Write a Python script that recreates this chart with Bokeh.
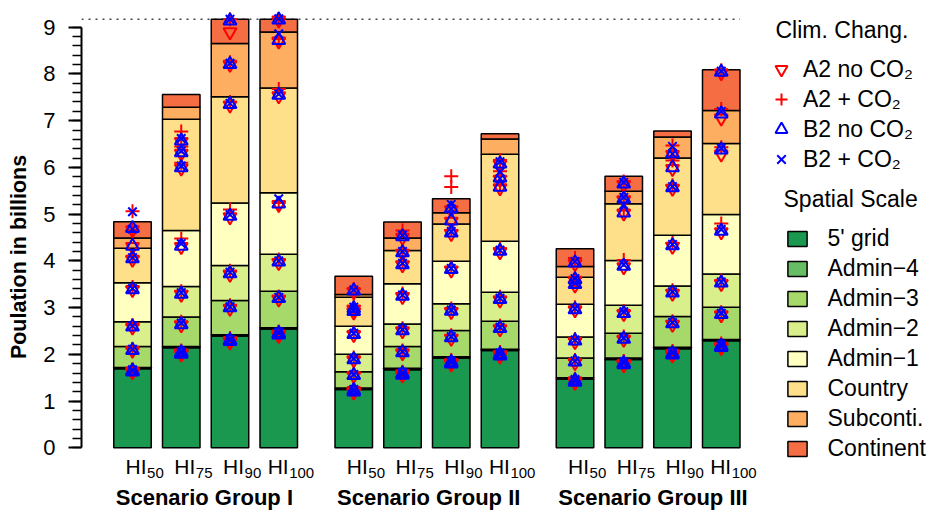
from bokeh.plotting import figure
from bokeh.models import (Range1d, ColumnDataSource, Legend, LegendItem, Label,
                          LabelSet, SingleIntervalTicker, FixedTicker, LinearAxis)
from bokeh.core.properties import value
from bokeh.embed import file_html
from bokeh.resources import INLINE

FONT = "Liberation Sans"

# ---------------- data ----------------
group_names = ["Scenario Group I", "Scenario Group II", "Scenario Group III"]
hi_levels = ["50", "75", "90", "100"]
scale_names = ["5' grid", "Admin\u22124", "Admin\u22123", "Admin\u22122", "Admin\u22121",
               "Country", "Subconti.", "Continent"]
scale_colors = ["#1a9850", "#66bd63", "#a6d96a", "#d9ef8b", "#ffffbf",
                "#fee08b", "#fdae61", "#f46d43"]
scenario_names = ["A2 no CO\u2082", "A2 + CO\u2082", "B2 no CO\u2082", "B2 + CO\u2082"]

# cumulative population (billions) up to each spatial scale, one row per bar
base_pop = [
    [1.69, 1.72, 2.17, 2.70, 3.53, 4.27, 4.49, 4.84],
    [2.14, 2.17, 2.80, 3.45, 4.65, 7.03, 7.29, 7.56],
    [2.39, 2.42, 3.15, 3.90, 5.24, 7.51, 8.65, 9.17],
    [2.54, 2.57, 3.35, 4.14, 5.46, 7.70, 8.90, 9.17],
    [1.25, 1.28, 1.63, 2.00, 2.60, 3.22, 3.28, 3.67],
    [1.67, 1.70, 2.17, 2.65, 3.51, 4.22, 4.49, 4.83],
    [1.92, 1.95, 2.51, 3.08, 3.99, 4.79, 5.03, 5.33],
    [2.08, 2.11, 2.71, 3.33, 4.42, 6.28, 6.61, 6.72],
    [1.47, 1.50, 1.92, 2.37, 3.07, 3.65, 3.88, 4.26],
    [1.89, 1.92, 2.45, 3.05, 4.01, 5.22, 5.49, 5.81],
    [2.12, 2.15, 2.81, 3.46, 4.55, 6.20, 6.65, 6.78],
    [2.29, 2.32, 3.01, 3.72, 4.99, 6.51, 7.22, 8.09],
]

a2_no = [
    [1.62, 1.64, 2.08, 2.58, 3.38, 4.03, 4.30, 4.66],
    [2.00, 2.03, 2.63, 3.28, 4.30, 5.98, 6.30, 6.55],
    [2.26, 2.29, 2.98, 3.71, 4.94, 7.33, 8.20, 8.90],
    [2.40, 2.43, 3.18, 3.96, 5.20, 7.53, 8.70, 9.15],
    [1.19, 1.22, 1.54, 1.88, 2.42, 2.90, 2.96, 3.34],
    [1.55, 1.58, 2.03, 2.50, 3.23, 3.91, 4.16, 4.50],
    [1.79, 1.82, 2.34, 2.91, 3.80, 4.58, 4.84, 5.09],
    [1.96, 1.99, 2.54, 3.16, 4.19, 5.56, 5.74, 6.06],
    [1.40, 1.43, 1.82, 2.27, 2.95, 3.48, 3.58, 3.94],
    [1.77, 1.80, 2.32, 2.87, 3.87, 5.02, 5.30, 5.63],
    [1.98, 2.01, 2.64, 3.30, 4.31, 5.55, 5.97, 6.27],
    [2.14, 2.17, 2.84, 3.51, 4.62, 6.28, 7.05, 8.02],
]
a2_co2 = [
    [1.66, 1.68, 2.12, 2.63, 3.44, 4.09, 4.66, 5.06],
    [2.05, 2.08, 2.70, 3.35, 4.48, 6.10, 6.45, 6.77],
    [2.32, 2.35, 3.05, 3.79, 5.10, 7.40, 8.25, 9.17],
    [2.46, 2.49, 3.24, 4.03, 5.24, 7.68, 8.75, 9.18],
    [1.24, 1.26, 1.59, 1.93, 2.48, 2.97, 3.04, 3.40],
    [1.60, 1.63, 2.08, 2.56, 3.30, 3.98, 4.23, 4.65],
    [1.85, 1.88, 2.41, 2.98, 3.87, 4.66, 5.58, 5.81],
    [2.02, 2.05, 2.61, 3.23, 4.27, 5.62, 5.92, 6.16],
    [1.45, 1.48, 1.88, 2.33, 3.01, 3.55, 3.64, 4.06],
    [1.83, 1.86, 2.38, 2.93, 4.02, 5.08, 5.38, 5.70],
    [2.04, 2.07, 2.71, 3.37, 4.38, 5.62, 6.15, 6.47],
    [2.20, 2.23, 2.90, 3.58, 4.80, 6.43, 7.25, 8.08],
]
b2_no = [
    [1.63, 1.65, 2.09, 2.59, 3.39, 4.05, 4.32, 4.70],
    [2.01, 2.04, 2.64, 3.29, 4.32, 6.00, 6.32, 6.57],
    [2.28, 2.30, 3.00, 3.73, 4.96, 7.35, 8.21, 9.14],
    [2.42, 2.45, 3.20, 3.98, 5.22, 7.55, 8.72, 9.16],
    [1.20, 1.23, 1.55, 1.89, 2.43, 2.92, 2.98, 3.36],
    [1.56, 1.59, 2.04, 2.51, 3.25, 3.92, 4.18, 4.52],
    [1.80, 1.83, 2.36, 2.93, 3.82, 4.60, 4.86, 5.12],
    [1.97, 2.00, 2.56, 3.18, 4.21, 5.58, 5.78, 6.08],
    [1.41, 1.44, 1.84, 2.29, 2.96, 3.50, 3.60, 3.96],
    [1.78, 1.81, 2.33, 2.88, 3.89, 5.03, 5.33, 5.65],
    [1.99, 2.02, 2.66, 3.32, 4.33, 5.57, 6.00, 6.30],
    [2.15, 2.18, 2.86, 3.53, 4.64, 6.38, 7.15, 8.04],
]
b2_co2 = [
    [1.65, 1.67, 2.11, 2.61, 3.41, 4.07, 4.68, 5.05],
    [2.03, 2.06, 2.67, 3.32, 4.37, 6.03, 6.35, 6.62],
    [2.30, 2.33, 3.02, 3.76, 4.99, 7.37, 8.23, 9.17],
    [2.45, 2.48, 3.22, 4.00, 5.33, 7.57, 8.86, 9.18],
    [1.22, 1.25, 1.57, 1.91, 2.45, 2.95, 3.01, 3.38],
    [1.58, 1.61, 2.06, 2.53, 3.27, 3.95, 4.20, 4.55],
    [1.83, 1.86, 2.38, 2.95, 3.84, 4.63, 5.11, 5.21],
    [2.00, 2.03, 2.58, 3.20, 4.23, 5.76, 5.90, 6.12],
    [1.43, 1.46, 1.86, 2.31, 2.98, 3.52, 3.62, 3.99],
    [1.81, 1.84, 2.35, 2.91, 3.92, 5.20, 5.36, 5.68],
    [2.02, 2.05, 2.68, 3.34, 4.35, 5.59, 6.29, 6.45],
    [2.18, 2.21, 2.88, 3.55, 4.67, 6.41, 7.20, 8.06],
]
y_ticks_max = 9

# ---------------- layout ----------------
bar_space = 0.3
group_space = 1.0
n_groups = len(group_names)
n_bars = len(hi_levels)
step = 1.0 + bar_space
group_step = n_bars * step - bar_space + group_space
bar_x = [g * group_step + i * step for g in range(n_groups) for i in range(n_bars)]

W, H = 937, 513
B_LEFT = 81
PX_X = 37.5          # pixels per bar width
PX_Y = 46.73         # pixels per billion
ZERO_PX = 447.3      # pixel row of y = 0, from the top
frame_w = W - B_LEFT
x_start = bar_x[0] - 51 / PX_X

p = figure(width=W, height=H,
           x_range=Range1d(x_start, x_start + frame_w / PX_X),
           y_range=Range1d(-(H - ZERO_PX) / PX_Y, ZERO_PX / PX_Y),
           output_backend="svg", toolbar_location=None,
           x_axis_location=None, y_axis_location="left",
           min_border_left=B_LEFT, min_border_right=0,
           min_border_top=0, min_border_bottom=0)
p.outline_line_color = None
p.grid.grid_line_color = None
p.background_fill_color = "white"
p.border_fill_color = "white"

# y axis (ticks 0..9)
ax = p.yaxis[0]
ax.ticker = SingleIntervalTicker(interval=1, num_minor_ticks=5)
ax.bounds = (0, y_ticks_max)
ax.axis_line_width = 2
ax.axis_line_color = "black"
ax.major_tick_line_width = 2
ax.major_tick_line_color = "black"
ax.minor_tick_line_width = 1.5
ax.minor_tick_line_color = "black"
ax.major_tick_in = 0
ax.major_tick_out = 13
ax.minor_tick_in = 0
ax.minor_tick_out = 9
ax.major_label_standoff = 13
ax.major_label_text_font = FONT
ax.major_label_text_font_size = "22px"
ax.major_label_text_color = "black"

# outer axis carrying only the title
ax2 = LinearAxis(ticker=FixedTicker(ticks=[]), bounds=(0, 9.56),
                 axis_label="Poulation in billions",
                 axis_label_text_font=FONT, axis_label_text_font_size="21.5px",
                 axis_label_text_font_style="bold", axis_label_text_color="black",
                 axis_label_standoff=10, axis_line_color=None,
                 major_tick_line_color=None, minor_tick_line_color=None,
                 major_tick_out=0, minor_tick_out=0, major_tick_in=0, minor_tick_in=0)
p.add_layout(ax2, "left")

# dotted reference line at the largest total
y_max = max(row[-1] for row in base_pop)
p.segment(x0=[x_start], x1=[bar_x[-1] + 0.5], y0=[y_max], y1=[y_max],
          line_color="#444444", line_width=1.5, line_dash="2 5")

# stacked bars
bar_renderers = []
for k in range(len(scale_names)):
    tops = [row[k] for row in base_pop]
    bottoms = [row[k - 1] if k > 0 else 0.0 for row in base_pop]
    src = ColumnDataSource(dict(x=bar_x, top=tops, bottom=bottoms))
    r = p.vbar(x="x", width=1.0, top="top", bottom="bottom", source=src,
               fill_color=scale_colors[k], line_color="black", line_width=1.5)
    bar_renderers.append(r)

# climate scenario markers
scen_data = [a2_no, a2_co2, b2_no, b2_co2]
marker_specs = [("inverted_triangle", "red", 13), ("cross", "red", 14),
                ("triangle", "blue", 13), ("x", "blue", 12)]
scen_renderers = []
for data, (mk, col, sz) in zip(scen_data, marker_specs):
    mx = [bar_x[b] for b in range(len(data)) for k in range(len(data[b]))]
    my = [data[b][k] for b in range(len(data)) for k in range(len(data[b]))]
    r = p.scatter(mx, my, marker=mk, size=sz, line_color=col, fill_color=None,
                  line_width=2)
    scen_renderers.append(r)

# legends (location = bottom-left corner, in px from the frame's bottom-left)
leg1 = Legend(items=[LegendItem(label=n, renderers=[r]) for n, r in zip(scenario_names, scen_renderers)],
              location=(685, 338.7), glyph_width=30, glyph_height=30, label_height=30,
              spacing=0, label_standoff=7, padding=0, margin=0,
              border_line_color=None, background_fill_alpha=0,
              label_text_font=FONT, label_text_font_size="23px", label_text_color="black")
p.add_layout(leg1)
leg2 = Legend(items=[LegendItem(label=n, renderers=[r]) for n, r in zip(scale_names, bar_renderers)],
              location=(703.5, 51), glyph_width=24, glyph_height=19, label_height=19,
              spacing=3, label_standoff=19, padding=0, margin=0,
              border_line_color=None, background_fill_alpha=0,
              label_text_font=FONT, label_text_font_size="23px", label_text_color="black")
p.add_layout(leg2)

p.add_layout(Label(x=694, y=483.7, x_units="screen", y_units="screen", text="Clim. Chang.",
                   text_font=FONT, text_font_size="23px", text_align="left",
                   text_baseline="alphabetic", text_color="black"))
p.add_layout(Label(x=702, y=314.3, x_units="screen", y_units="screen", text="Spatial Scale",
                   text_font=FONT, text_font_size="23px", text_align="left",
                   text_baseline="alphabetic", text_color="black"))

# category labels HI with subscripts
hi_w = 21.0
digit_w = 8.4
sub_text = [h for g in range(n_groups) for h in hi_levels]
hi_off = [12 - (hi_w + digit_w * len(s)) / 2 for s in sub_text]
sub_off = [o + hi_w + 0.5 for o in hi_off]
lab_src = ColumnDataSource(dict(x=bar_x, y=[0] * len(bar_x), hi=["HI"] * len(bar_x),
                                sub=sub_text, hi_off=hi_off, sub_off=sub_off))
p.add_layout(LabelSet(x="x", y="y", text="hi", x_offset="hi_off", y_offset=-26,
                      source=lab_src, text_align="left", text_baseline="alphabetic",
                      text_font=value(FONT), text_font_size="21px", text_color="black"))
p.add_layout(LabelSet(x="x", y="y", text="sub", x_offset="sub_off", y_offset=-30,
                      source=lab_src, text_align="left", text_baseline="alphabetic",
                      text_font=value(FONT), text_font_size="15px", text_color="black"))

grp_src = ColumnDataSource(dict(x=[bar_x[g * n_bars] - 0.5 for g in range(n_groups)],
                                y=[0] * n_groups, text=group_names))
p.add_layout(LabelSet(x="x", y="y", text="text", x_offset=2, y_offset=-57,
                      source=grp_src, text_align="left", text_baseline="alphabetic",
                      text_font=value(FONT), text_font_size="22px",
                      text_font_style="bold", text_color="black"))

open("out.html", "w").write(file_html(p, INLINE))
